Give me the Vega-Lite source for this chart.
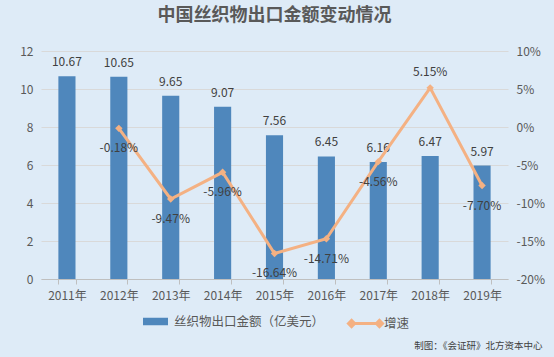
{
  "$schema": "https://vega.github.io/schema/vega-lite/v6.json",
  "width": 467,
  "height": 228,
  "autosize": {"type": "none"},
  "padding": {"left": 41, "top": 51, "right": 46, "bottom": 78},
  "background": "#deebf7",
  "config": {
    "font": "Noto Sans CJK SC",
    "view": {"stroke": null},
    "locale": {"number": {"decimal": ".", "thousands": ",", "grouping": [3], "currency": ["$", ""], "minus": "-"}}
  },
  "title": {
    "text": "中国丝织物出口金额变动情况",
    "fontSize": 18,
    "fontWeight": "bold",
    "color": "#595959",
    "anchor": "middle",
    "offset": 20
  },
  "data": {
    "values": [
      {"year": "2011年", "amount": 10.67, "growth": null},
      {"year": "2012年", "amount": 10.65, "growth": -0.0018},
      {"year": "2013年", "amount": 9.65, "growth": -0.0947},
      {"year": "2014年", "amount": 9.07, "growth": -0.0596},
      {"year": "2015年", "amount": 7.56, "growth": -0.1664},
      {"year": "2016年", "amount": 6.45, "growth": -0.1471},
      {"year": "2017年", "amount": 6.16, "growth": -0.0456},
      {"year": "2018年", "amount": 6.47, "growth": 0.0515},
      {"year": "2019年", "amount": 5.97, "growth": -0.077}
    ]
  },
  "encoding": {
    "x": {
      "field": "year",
      "type": "ordinal",
      "sort": null,
      "scale": {"paddingInner": 0.67, "paddingOuter": 0.335},
      "axis": {
        "labelAngle": 0,
        "labelFontSize": 12,
        "labelColor": "#595959",
        "labelPadding": 6,
        "domainColor": "#bfbfbf",
        "tickColor": "#bfbfbf",
        "tickSize": 5,
        "tickBand": "extent",
        "grid": false,
        "title": "制图：《会证研》北方资本中心",
        "titleFontSize": 9.5,
        "titleFontWeight": "normal",
        "titleColor": "#404040",
        "titleAnchor": "end",
        "titleAlign": "right",
        "titleBaseline": "middle",
        "titleX": 501,
        "titleY": 66
      }
    }
  },
  "layer": [
    {
      "encoding": {
        "y": {
          "field": "amount",
          "type": "quantitative",
          "scale": {"domain": [0, 12]},
          "axis": {
            "orient": "left",
            "values": [0, 2, 4, 6, 8, 10, 12],
            "title": null,
            "domain": false,
            "ticks": false,
            "labelPadding": 8,
            "labelFontSize": 12,
            "labelColor": "#595959",
            "gridColor": "#d9d9d9",
            "grid": true
          }
        }
      },
      "layer": [
        {
          "mark": {"type": "bar"},
          "encoding": {
            "fill": {
              "datum": "丝织物出口金额（亿美元）",
              "type": "nominal",
              "scale": {"range": ["#4f87bc"]},
              "legend": {
                "orient": "none",
                "legendX": 102,
                "legendY": 258,
                "title": null,
                "symbolType": "M-1,-0.3H1V0.3H-1Z",
                "symbolSize": 625,
                "symbolStrokeWidth": 0,
                "labelFontSize": 12.5,
                "labelColor": "#595959",
                "labelOffset": 6
              }
            }
          }
        },
        {
          "mark": {"type": "text", "baseline": "middle", "dy": -14, "fontSize": 12, "color": "#404040"},
          "encoding": {
            "text": {"field": "amount", "type": "quantitative", "format": ".2f"}
          }
        }
      ]
    },
    {
      "encoding": {
        "y": {
          "field": "growth",
          "type": "quantitative",
          "scale": {"domain": [-0.2, 0.1]},
          "axis": {
            "orient": "right",
            "values": [-0.2, -0.15, -0.1, -0.05, 0, 0.05, 0.1],
            "format": ".0%",
            "title": null,
            "domain": false,
            "ticks": false,
            "grid": false,
            "labelPadding": 8,
            "labelFontSize": 12,
            "labelColor": "#595959"
          }
        }
      },
      "layer": [
        {
          "mark": {
            "type": "line",
            "strokeWidth": 3,
            "point": {"shape": "diamond", "filled": true, "size": 55, "fill": "#f4b183", "stroke": "#f4b183", "strokeWidth": 0}
          },
          "encoding": {
            "stroke": {
              "datum": "增速",
              "type": "nominal",
              "scale": {"range": ["#f4b183"]},
              "legend": {
                "orient": "none",
                "legendX": 306,
                "legendY": 254,
                "title": null,
                "symbolType": "M-0.8,0H0.8M-1,0L-0.82,-0.18L-0.64,0L-0.82,0.18ZM1,0L0.82,-0.18L0.64,0L0.82,0.18Z",
                "symbolSize": 1156,
                "symbolStrokeWidth": 3,
                "symbolFillColor": "#f4b183",
                "labelFontSize": 12.5,
                "labelColor": "#595959",
                "labelOffset": 0
              }
            }
          }
        },
        {
          "transform": [{"filter": "datum.growth != null && datum.growth < 0"}],
          "mark": {"type": "text", "baseline": "middle", "dy": 20, "fontSize": 12, "color": "#404040"},
          "encoding": {
            "text": {"field": "growth", "type": "quantitative", "format": ".2%"}
          }
        },
        {
          "transform": [{"filter": "datum.growth != null && datum.growth > 0"}],
          "mark": {"type": "text", "baseline": "middle", "dy": -16, "fontSize": 12, "color": "#404040"},
          "encoding": {
            "text": {"field": "growth", "type": "quantitative", "format": ".2%"}
          }
        }
      ]
    }
  ],
  "resolve": {"scale": {"y": "independent"}}
}
